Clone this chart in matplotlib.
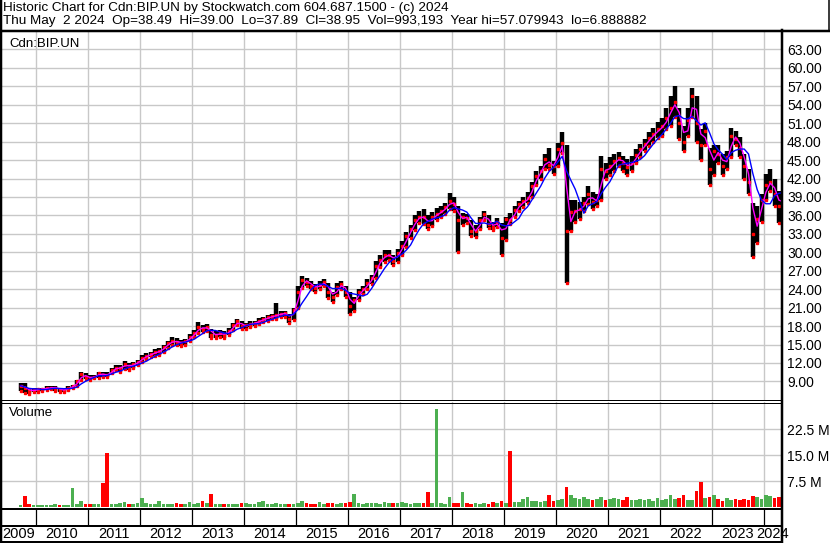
"""
Stockwatch-style historic chart for Cdn:BIP.UN (monthly bars read off the
original daily chart), saved as out.png.
"""

import numpy as np
import pandas as pd
import matplotlib

matplotlib.use("Agg")
import matplotlib.pyplot as plt
import matplotlib.transforms as mtransforms
from matplotlib.lines import Line2D

plt.rcParams["font.family"] = ["Liberation Sans", "DejaVu Sans"]

# --- Data (one value per month, Sep 2009 .. May 2024) -----------------------
START = "2009-09"

CLOSE = [
    8.3, 7.9, 7.4, 7.6,                                                  # 2009
    7.7, 7.8, 7.9, 8.0, 8.0, 7.6, 7.6, 8.0, 8.2, 9.0, 10.2, 9.7,          # 2010
    9.6, 9.8, 10.3, 10.1, 10.0, 10.9, 11.2, 11.2, 11.8, 11.4, 11.8, 12.2, # 2011
    12.8, 13.2, 13.4, 13.8, 13.9, 14.6, 15.2, 15.6, 15.4, 15.3, 15.5, 16.2,
    16.8, 17.8, 17.6, 17.8, 16.6, 16.6, 16.8, 16.6, 17.2, 18.1, 18.8, 18.0,
    18.1, 18.4, 18.5, 18.9, 19.1, 19.4, 19.6, 19.8, 20.0, 20.1, 19.2, 20.6,
    23.5, 25.5, 25.2, 24.6, 24.2, 24.7, 25.2, 23.6, 22.8, 24.3, 24.8, 23.6,
    21.2, 22.2, 23.5, 24.0, 25.0, 25.8, 27.8, 28.8, 29.5, 29.6, 28.6, 29.9,
    31.0, 32.6, 33.8, 35.3, 35.8, 35.7, 34.5, 35.8, 36.2, 36.7, 37.3, 38.3,
    37.8, 35.2, 35.8, 35.6, 33.4, 33.5, 35.2, 36.2, 34.6, 34.2, 35.0, 32.3,
    35.4, 35.2, 36.9, 37.8, 38.3, 38.8, 40.8, 42.4, 43.3, 45.2, 44.2, 44.0,
    46.8, 47.8, 33.5, 36.5, 36.8, 37.0, 38.0, 39.5, 38.2, 38.5, 43.5, 43.2,
    44.0, 44.8, 45.3, 44.5, 43.8, 44.6, 45.8, 46.8, 47.6, 48.6, 49.2, 50.0,
    50.5, 51.8, 53.5, 54.5, 51.0, 48.0, 51.5, 55.5, 51.0, 47.5, 49.8, 43.5,
    46.5, 46.0, 44.0, 45.5, 49.0, 48.5, 47.0, 44.0, 41.5, 33.0, 35.5, 38.5,
    41.0, 41.5, 39.5, 37.5, 38.95,                                       # 2024
]

LOW = [
    7.4, 7.1, 6.9, 7.2,
    7.3, 7.5, 7.6, 7.7, 7.5, 7.2, 7.2, 7.6, 7.9, 8.2, 9.2, 9.4,
    9.3, 9.5, 9.6, 9.8, 9.7, 10.4, 10.8, 10.5, 11.0, 10.9, 11.2, 11.7,
    12.2, 12.7, 12.9, 13.2, 13.3, 13.8, 14.5, 15.0, 15.0, 14.8, 14.9, 15.6,
    16.2, 16.8, 17.0, 17.2, 16.0, 16.0, 16.2, 16.1, 16.6, 17.3, 18.1, 17.6,
    17.6, 17.9, 18.0, 18.3, 18.6, 18.9, 19.1, 19.2, 19.4, 19.4, 18.5, 19.0,
    21.0, 24.2, 24.5, 24.0, 23.6, 24.0, 24.5, 22.5, 22.0, 23.0, 24.0, 22.8,
    20.0, 20.5, 22.2, 23.3, 24.0, 24.9, 25.8, 27.6, 28.4, 28.8, 28.0, 28.5,
    29.6, 30.8, 32.3, 33.6, 34.8, 34.6, 33.8, 34.3, 35.3, 35.8, 36.2, 37.0,
    36.8, 30.1, 34.5, 34.7, 32.6, 32.5, 33.8, 35.3, 34.0, 33.6, 34.2, 29.6,
    32.0, 34.6, 35.8, 36.8, 37.4, 38.0, 39.0, 41.0, 42.0, 43.5, 43.6, 42.8,
    44.0, 46.2, 25.0, 33.5, 35.0, 35.5, 36.8, 37.8, 37.0, 37.5, 38.5, 42.0,
    42.5, 43.2, 44.0, 43.3, 42.6, 43.2, 44.5, 45.5, 46.4, 47.3, 48.0, 48.6,
    49.0, 50.0, 50.5, 52.0, 48.5, 46.5, 49.0, 52.0, 48.0, 45.0, 47.5, 41.0,
    42.5, 44.5, 42.5, 43.5, 45.5, 47.5, 45.5, 42.0, 39.5, 29.3, 31.5, 35.0,
    38.5, 40.0, 37.5, 34.7, 37.9,
]

HIGH = [
    8.8, 8.7, 7.9, 7.9,
    8.0, 8.0, 8.2, 8.3, 8.3, 8.0, 7.9, 8.2, 8.5, 9.3, 10.6, 10.3,
    10.0, 10.1, 10.5, 10.6, 10.5, 11.2, 11.6, 11.6, 12.3, 12.0, 12.1, 12.5,
    13.3, 13.6, 13.8, 14.2, 14.4, 15.0, 15.6, 16.3, 16.0, 15.8, 15.9, 16.7,
    17.3, 18.7, 18.2, 18.3, 17.6, 17.2, 17.3, 17.2, 17.7, 18.5, 19.2, 18.8,
    18.5, 18.8, 18.9, 19.3, 19.5, 19.8, 20.0, 21.7, 20.4, 20.5, 20.0, 21.0,
    24.5, 26.2, 25.9, 25.4, 24.8, 25.3, 25.7, 25.0, 23.6, 25.0, 25.3, 24.6,
    23.5, 22.8, 24.0, 24.6, 25.6, 26.3, 28.6, 29.6, 30.3, 30.4, 29.6, 30.6,
    31.8, 33.3, 34.5, 36.0, 36.8, 37.0, 36.0, 36.5, 37.2, 37.5, 38.0, 39.6,
    39.0, 37.5, 36.4, 36.3, 35.3, 34.5, 35.8, 36.8, 36.0, 35.0, 35.6, 34.8,
    35.8, 36.4, 37.5, 38.4, 39.0, 39.8, 41.5, 43.3, 44.0, 46.0, 47.0, 44.8,
    47.8, 49.6, 47.5, 38.5, 38.5, 38.2, 39.0, 40.8, 39.8, 39.5, 45.6, 44.5,
    45.5, 46.0, 46.3, 45.6, 45.2, 45.6, 46.8, 47.6, 48.4, 49.6, 50.3, 51.2,
    51.8, 53.5, 55.5, 57.1, 53.5, 50.5, 53.5, 56.8, 55.5, 50.0, 51.0, 47.0,
    47.5, 47.5, 46.0, 46.5, 50.2, 49.8, 48.8, 46.0, 43.5, 38.0, 37.5, 39.5,
    42.8, 43.6, 42.0, 40.0, 39.0,
]

# volume, millions of shares
VOLUME_M = [
    0.6, 3.3, 0.8, 0.6,
    0.7, 0.6, 0.5, 0.6, 0.8, 0.6, 0.5, 0.6, 5.5, 0.9, 1.6, 0.9,
    0.8, 1.0, 0.9, 7.0, 15.5, 0.9, 1.0, 1.2, 1.4, 1.0, 0.9, 1.1,
    2.5, 1.2, 0.9, 1.0, 1.6, 0.9, 1.0, 0.8, 1.1, 0.9, 1.0, 1.4,
    1.0, 1.2, 1.6, 1.1, 3.8, 1.0, 0.9, 1.0, 0.8, 0.9, 1.0, 1.1,
    1.2, 1.0, 0.9, 1.5, 1.6, 1.0, 0.9, 1.2, 0.8, 0.9, 1.0, 0.9,
    1.3, 1.6, 1.1, 0.9, 1.0, 1.4, 1.0, 1.2, 1.1, 1.0, 1.3, 1.2,
    1.4, 3.8, 1.2, 1.0, 1.1, 1.3, 1.2, 1.0, 1.4, 1.1, 1.2, 1.3,
    1.5, 1.2, 1.0, 1.3, 1.1, 1.2, 4.3, 1.3, 28.3, 1.2, 1.0, 3.0,
    1.2, 1.3, 4.3, 1.1, 1.0, 1.2, 0.9, 1.1, 1.0, 1.4, 1.2, 1.6,
    1.3, 16.3, 1.5, 1.4, 2.4, 2.8, 1.6, 1.8, 1.5, 1.7, 3.6, 1.8,
    2.0, 2.4, 5.8, 3.5, 2.6, 2.2, 3.0, 2.2, 1.9, 2.4, 2.8, 2.0,
    2.2, 2.6, 2.4, 2.0, 2.8, 2.1, 1.9, 2.3, 2.0, 2.2, 1.8, 2.5,
    2.0, 2.4, 3.6, 2.2, 2.5, 3.5, 2.0, 2.1, 4.5, 7.2, 2.6, 2.9,
    3.5, 2.2, 1.8, 2.5, 2.0, 2.3, 1.9, 2.2, 2.0, 3.2, 2.8, 2.4,
    3.5, 3.1, 2.6, 2.8, 2.2,
]

PRICE_TICKS = list(range(9, 64, 3))
VOL_TICKS = [7.5, 15.0, 22.5]
VOL_LABELS = ["7.5 M", "15.0 M", "22.5 M"]
YEARS = list(range(2009, 2025))

HEADER_1 = ("Historic Chart for Cdn:BIP.UN by Stockwatch.com "
            "604.687.1500 - (c) 2024")
HEADER_2 = ("Thu May  2 2024  Op=38.49  Hi=39.00  Lo=37.89  Cl=38.95  "
            "Vol=993,193  Year hi=57.079943  lo=6.888882")

# --- Layout (pixels of an 830x543 canvas) -----------------------------------
W, H = 830, 543
X0, X1 = 2009.352, 2024.352     # visible date window, decimal years
GRID = "#c8c8c8"
UP, DOWN = "#4caf50", "#ff0000"


def box(x0, y0, x1, y1):
    return [x0 / W, 1 - y1 / H, (x1 - x0) / W, (y1 - y0) / H]


def fig_line(fig, xs, ys, px):
    fig.add_artist(Line2D([x / W for x in xs], [1 - y / H for y in ys],
                          color="black", lw=px * 0.72,
                          transform=fig.transFigure))


def main():
    months = pd.period_range(START, periods=len(CLOSE), freq="M")
    t = np.asarray(months.year + (months.month - 0.5) / 12.0)
    close = pd.Series(CLOSE, dtype=float)
    ma_fast = close.rolling(2, min_periods=1).mean()
    ma_slow = close.rolling(5, min_periods=1).mean()
    change = np.diff(close.values, prepend=close.values[0])
    vol_colors = [DOWN if c < 0 else UP for c in change]

    fig = plt.figure(figsize=(W / 100, H / 100), dpi=100)

    # price panel
    ax = fig.add_axes(box(2, 31, 782, 400))
    ax.set_xlim(X0, X1)
    ax.set_ylim(5.98, 66.0)
    ax.set_axisbelow(True)
    ax.set_xticks(YEARS[1:])
    ax.set_yticks(PRICE_TICKS)
    ax.set_yticklabels([f"{v:.2f}" for v in PRICE_TICKS])
    ax.yaxis.tick_right()
    ax.tick_params(length=0, labelbottom=False, labelsize=10, pad=3.6)
    ax.grid(True, color=GRID, lw=1.0)
    for s in ax.spines.values():
        s.set_visible(False)

    ax.vlines(t, LOW, HIGH, color="black", lw=3.2, zorder=2)
    ax.plot(t, LOW, ls="none", marker="s", ms=1.6, color="#ff0000",
            zorder=3)
    ax.plot(t, CLOSE, ls="none", marker="s", ms=1.6, color="#ff0000",
            zorder=3)
    ax.plot(t, ma_fast, color="#ff00ff", lw=1.0, zorder=4)
    ax.plot(t, ma_slow, color="#0000ff", lw=1.0, zorder=5)
    ax.text(0.009, 0.966, "Cdn:BIP.UN", transform=ax.transAxes,
            fontsize=9.5, ha="left", va="center")

    # volume panel
    axv = fig.add_axes(box(2, 402, 782, 507))
    axv.set_xlim(X0, X1)
    axv.set_ylim(0, 30.4)
    axv.set_axisbelow(True)
    axv.set_xticks(YEARS[1:])
    axv.set_yticks(VOL_TICKS)
    axv.set_yticklabels(VOL_LABELS)
    axv.yaxis.tick_right()
    axv.tick_params(length=0, labelbottom=False, labelsize=10, pad=3.6)
    axv.grid(True, color=GRID, lw=1.0)
    for s in axv.spines.values():
        s.set_visible(False)
    axv.bar(t, VOLUME_M, width=0.8 / 12, color=vol_colors, lw=0)
    axv.text(0.009, 0.9, "Volume", transform=axv.transAxes,
             fontsize=9.5, ha="left", va="center")

    # year strip
    axy = fig.add_axes(box(2, 510, 782, 526))
    axy.set_xlim(X0, X1)
    axy.set_ylim(0, 1)
    axy.axis("off")
    for yr in YEARS[1:]:
        axy.axvline(yr, color="black", lw=0.9)
    trans = mtransforms.blended_transform_factory(axy.transData,
                                                  axy.transAxes)
    for yr in YEARS:
        mid = (max(yr, X0) + min(yr + 1, X1)) / 2
        axy.text(mid, -0.53, str(yr), transform=trans, fontsize=10.5,
                 ha="center", va="center", clip_on=False)

    # header
    fig.text(3 / W, 1 - 8 / H, HEADER_1, fontsize=9.7, ha="left",
             va="center")
    fig.text(3 / W, 1 - 21 / H, HEADER_2, fontsize=9.7, ha="left",
             va="center")

    # frame lines
    fig_line(fig, [0, W], [30.5, 30.5], 2.5)
    fig_line(fig, [1, 1], [0, H], 2.5)
    fig_line(fig, [829, 829], [0, 31], 1.5)
    fig_line(fig, [782, 782], [30, H], 2.5)
    fig_line(fig, [0, 782], [400, 400], 1)
    fig_line(fig, [0, 782], [402.5, 402.5], 1)
    fig_line(fig, [0, 782], [509, 509], 2)
    fig_line(fig, [0, 782], [526, 526], 2)
    fig_line(fig, [0, 782], [541.5, 541.5], 2)

    fig.savefig("out.png", dpi=100)
    plt.close(fig)


if __name__ == "__main__":
    main()
